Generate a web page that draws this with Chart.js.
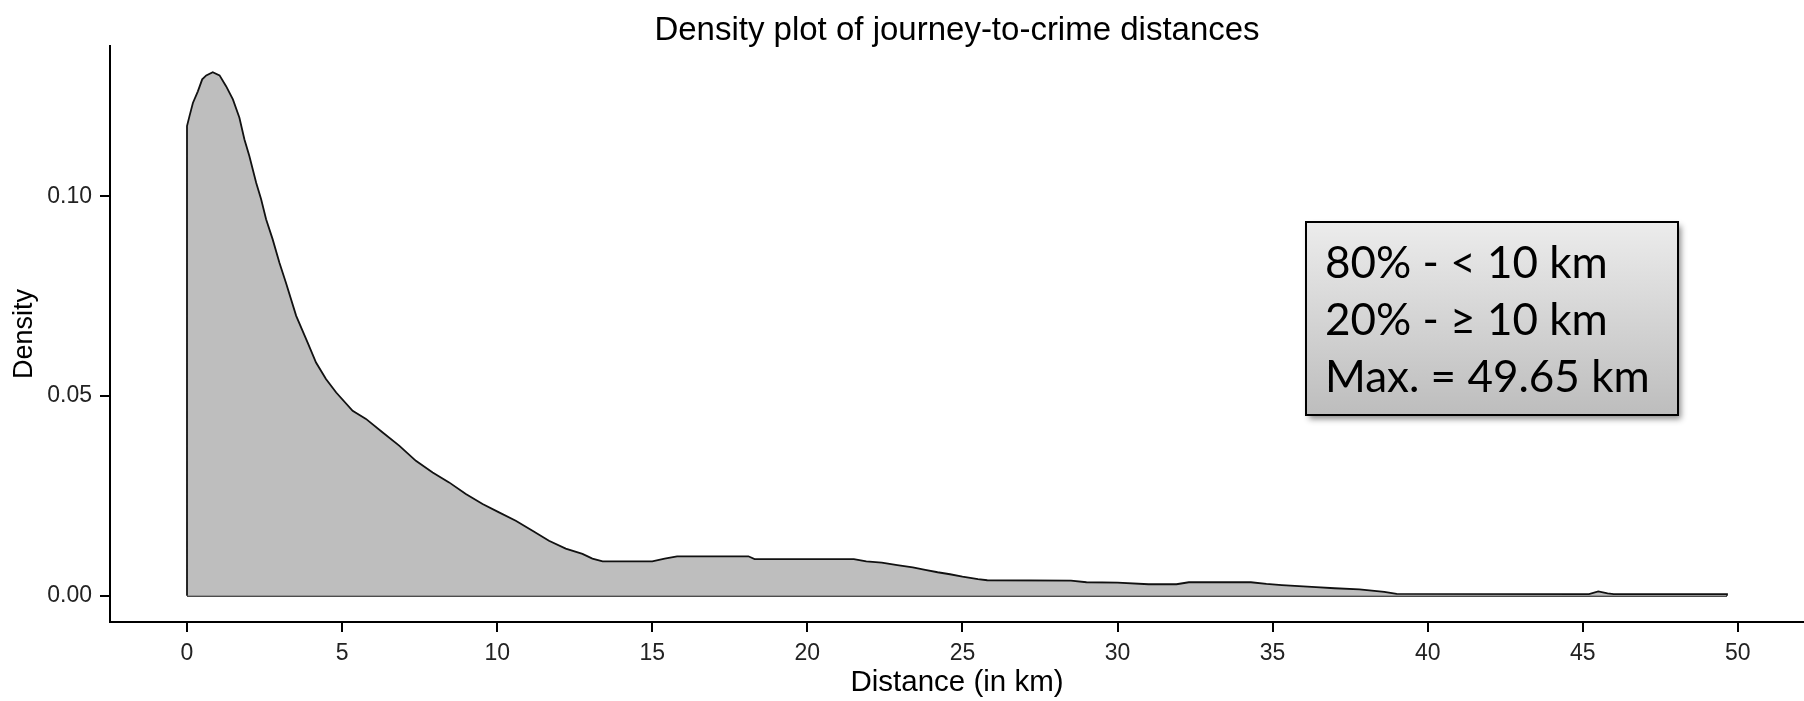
<!DOCTYPE html>
<html lang="en">
  <head>
    <meta charset="UTF-8" />
    <title>Journey-to-crime distances</title>
    <script src="https://cdn.jsdelivr.net/npm/chart.js"></script>
    <style>
      body { margin: 0; background: #fff; }
      canvas { display: block; }
    </style>
  </head>
  <body>
    <canvas id="densityChart" width="1804" height="701"></canvas>

    <script>
      // kernel density estimate, sampled along the distance axis
      const distanceKm = [
        0, 0, 0.08, 0.19, 0.35, 0.49, 0.62, 0.83, 1.05, 1.26, 1.48, 1.69, 1.85,
        2.01, 2.23, 2.39, 2.55, 2.76, 2.98, 3.19, 3.52, 3.89, 4.16, 4.48, 4.81,
        5.34, 5.77, 6.31, 6.84, 7.38, 7.92, 8.45, 8.99, 9.53, 10.06, 10.6, 11.14,
        11.67, 12.21, 12.75, 13.07, 13.4, 15.0, 15.4, 15.8, 18.1, 18.3, 21.5,
        21.9, 22.4, 22.9, 23.4, 23.8, 24.2, 24.6, 25.0, 25.5, 25.8, 28.5, 29.0,
        30.0, 31.0, 31.9, 32.3, 34.3, 34.8, 35.3, 36.4, 37.0, 37.8, 38.6, 39.0,
        45.2, 45.5, 45.8, 46.0, 49.65, 49.65
      ];
      const density = [
        0, 0.1176, 0.1201, 0.1234, 0.1263, 0.1293, 0.1303, 0.1311, 0.1303,
        0.1276, 0.1243, 0.1197, 0.1143, 0.1101, 0.1034, 0.0993, 0.0943, 0.0893,
        0.0834, 0.0784, 0.0701, 0.0634, 0.0584, 0.0543, 0.0509, 0.0463, 0.0443,
        0.0409, 0.0376, 0.0338, 0.0309, 0.0284, 0.0255, 0.023, 0.0209, 0.0188,
        0.0163, 0.0138, 0.0118, 0.0105, 0.0093, 0.0086, 0.0086, 0.0093, 0.0099,
        0.0099, 0.0092, 0.0092, 0.0086, 0.0083, 0.0077, 0.0071, 0.0065, 0.0059,
        0.0054, 0.0048, 0.0042, 0.0039, 0.0038, 0.0034, 0.0033, 0.0029, 0.0029,
        0.0034, 0.0034, 0.003, 0.0027, 0.0022, 0.0019, 0.0016, 0.001, 0.0005,
        0.0004, 0.0011, 0.0006, 0.0004, 0.0004, 0
      ];
      const maxDistance = 49.65;

      const xTicks = [0, 5, 10, 15, 20, 25, 30, 35, 40, 45, 50];
      const yTicks = [0, 0.05, 0.1];
      const yTickLabels = ['0.00', '0.05', '0.10'];

      const plotTitle = 'Density plot of journey-to-crime distances';
      const summaryLines = ['80% - < 10 km', '20% - \u2265 10 km', 'Max. = 49.65 km'];

      const curvePoints = distanceKm.map((x, i) => ({ x: x, y: density[i] }));
      const peak = Math.max(...density);

      // title centred over the plotting panel rather than the whole canvas
      const panelTitle = {
        id: 'panelTitle',
        afterDraw(chart) {
          const { ctx, chartArea } = chart;
          ctx.save();
          ctx.fillStyle = '#000';
          ctx.font = '33px "Liberation Sans"';
          ctx.textAlign = 'center';
          ctx.textBaseline = 'alphabetic';
          ctx.fillText(plotTitle, (chartArea.left + chartArea.right) / 2, 40);
          ctx.restore();
        }
      };

      // summary text box drawn over the plot
      const summaryBox = {
        id: 'summaryBox',
        afterDraw(chart) {
          const ctx = chart.ctx;
          const x = 1306, y = 222, w = 372, h = 193;
          ctx.save();
          ctx.shadowColor = 'rgba(0, 0, 0, 0.45)';
          ctx.shadowBlur = 6;
          ctx.shadowOffsetX = 3;
          ctx.shadowOffsetY = 4;
          const grad = ctx.createLinearGradient(0, y, 0, y + h);
          grad.addColorStop(0, '#ececec');
          grad.addColorStop(1, '#bdbdbd');
          ctx.fillStyle = grad;
          ctx.fillRect(x, y, w, h);
          ctx.restore();

          ctx.save();
          ctx.strokeStyle = '#000';
          ctx.lineWidth = 2;
          ctx.strokeRect(x, y, w, h);
          ctx.fillStyle = '#000';
          ctx.font = '44px Lato';
          ctx.textBaseline = 'alphabetic';
          summaryLines.forEach((line, i) => {
            ctx.fillText(line, x + 19, y + 56 + i * 57);
          });
          ctx.restore();
        }
      };

      const ctx = document.getElementById('densityChart').getContext('2d');
      new Chart(ctx, {
        type: 'scatter',
        data: {
          datasets: [
            {
              label: 'Density',
              data: curvePoints,
              showLine: true,
              fill: 'origin',
              backgroundColor: '#bebebe',
              borderColor: '#111',
              borderWidth: 1.8,
              pointRadius: 0,
              tension: 0
            },
            {
              label: 'Baseline',
              data: [{ x: 0, y: 0 }, { x: maxDistance, y: 0 }],
              showLine: true,
              fill: false,
              borderColor: '#111',
              borderWidth: 2,
              pointRadius: 0
            }
          ]
        },
        options: {
          responsive: false,
          animation: false,
          devicePixelRatio: 1,
          layout: { padding: { left: 0, right: 0, top: 46, bottom: 0 } },
          plugins: {
            legend: { display: false },
            tooltip: { enabled: false },
            title: { display: false }
          },
          scales: {
            x: {
              type: 'linear',
              min: -0.05 * maxDistance,
              max: maxDistance * 1.05,
              afterBuildTicks: axis => { axis.ticks = xTicks.map(v => ({ value: v })); },
              afterFit: axis => { axis.height = 79; },
              border: { display: true, color: '#000', width: 2 },
              grid: { drawOnChartArea: false, drawTicks: true, tickLength: 10, color: '#000', lineWidth: 2 },
              ticks: {
                color: '#222',
                padding: 8,
                maxRotation: 0,
                font: { family: 'Liberation Sans', size: 23 },
                callback: v => String(v)
              },
              title: {
                display: true,
                text: 'Distance (in km)',
                color: '#000',
                font: { family: 'Liberation Sans', size: 29.5 },
                padding: { top: 0, bottom: 0 }
              }
            },
            y: {
              type: 'linear',
              min: -0.05 * peak,
              max: peak * 1.05,
              afterBuildTicks: axis => { axis.ticks = yTicks.map(v => ({ value: v })); },
              afterFit: axis => { axis.width = 110; },
              border: { display: true, color: '#000', width: 2 },
              grid: { drawOnChartArea: false, drawTicks: true, tickLength: 10, color: '#000', lineWidth: 2 },
              ticks: {
                color: '#222',
                padding: 8,
                font: { family: 'Liberation Sans', size: 23 },
                callback: v => yTickLabels[yTicks.indexOf(v)] ?? ''
              },
              title: {
                display: true,
                text: 'Density',
                color: '#000',
                font: { family: 'Liberation Sans', size: 27 },
                padding: { top: 8, bottom: 0 }
              }
            }
          }
        },
        plugins: [panelTitle, summaryBox]
      });
    </script>
  </body>
</html>
